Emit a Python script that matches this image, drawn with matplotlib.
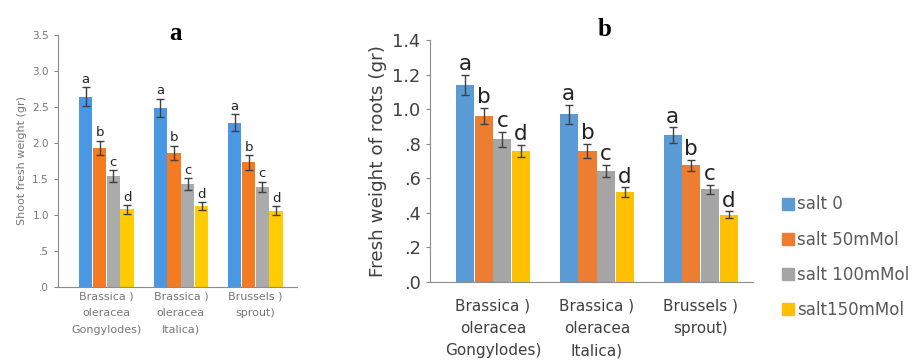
import matplotlib
matplotlib.use("Agg")
import matplotlib.pyplot as plt
import numpy as np
from matplotlib.ticker import FuncFormatter
from matplotlib.lines import Line2D

plt.rcParams['font.family'] = ['DejaVu Sans']

categories = ["Brassica )\noleracea\nGongylodes)", "Brassica )\noleracea\nItalica)", "Brussels )\nsprout)"]
series = ["salt 0", "salt 50mMol", "salt 100mMol", "salt150mMol"]
letters = ["a", "b", "c", "d"]

# Panel a: shoot fresh weight (gr)
shoot_vals = {
    "salt 0":       [2.64, 2.49, 2.28],
    "salt 50mMol":  [1.93, 1.86, 1.73],
    "salt 100mMol": [1.54, 1.43, 1.39],
    "salt150mMol":  [1.08, 1.12, 1.06],
}
shoot_err = {
    "salt 0":       [0.13, 0.125, 0.115],
    "salt 50mMol":  [0.10, 0.10, 0.10],
    "salt 100mMol": [0.08, 0.08, 0.07],
    "salt150mMol":  [0.06, 0.055, 0.06],
}

# Panel b: fresh weight of roots (gr)
root_vals = {
    "salt 0":       [1.14, 0.97, 0.85],
    "salt 50mMol":  [0.96, 0.76, 0.675],
    "salt 100mMol": [0.826, 0.641, 0.537],
    "salt150mMol":  [0.757, 0.519, 0.39],
}
root_err = {
    "salt 0":       [0.06, 0.054, 0.045],
    "salt 50mMol":  [0.047, 0.04, 0.033],
    "salt 100mMol": [0.043, 0.036, 0.027],
    "salt150mMol":  [0.036, 0.03, 0.02],
}

colors_a = ["#4A98E4", "#F47B22", "#ABABAB", "#FFCC00"]
colors_b = ["#5B9BD5", "#ED7D31", "#A5A5A5", "#FFC000"]

def fmt(v, pos):
    s = f"{v:.1f}"
    if s.startswith("0"):
        s = s[1:]
    return s

fig = plt.figure(figsize=(9.2, 3.63), dpi=100)

def panel(ax, vals, errs, colors, width, ylim, step, tick_fs, lab_fs, let_fs,
          ylabel, ylab_fs, txtcol, linesp, let_off, xpad):
    x = np.arange(len(categories))
    n = len(series)
    for i, s in enumerate(series):
        xs = x + (i - (n - 1) / 2) * width
        ax.bar(xs, vals[s], width=width * 0.97, color=colors[i], zorder=2)
        ax.errorbar(xs, vals[s], yerr=errs[s], fmt='none', ecolor='#3F3F3F',
                    elinewidth=1.0, capsize=3, capthick=1.0, zorder=3)
        for xi, v, e in zip(xs, vals[s], errs[s]):
            ax.text(xi, v + e + let_off, letters[i], ha='center', va='bottom',
                    fontsize=let_fs, color='#222222')
    ax.set_ylim(*ylim)
    ax.set_yticks(np.arange(0, ylim[1] + 1e-9, step))
    ax.yaxis.set_major_formatter(FuncFormatter(fmt))
    ax.set_xticks(x)
    ax.set_xticklabels(categories, fontsize=lab_fs, color=txtcol, linespacing=linesp)
    ax.tick_params(axis='x', length=0, pad=xpad)
    ax.tick_params(axis='y', labelsize=tick_fs, colors='#888888', labelcolor=txtcol, length=3)
    for sp in ['top', 'right']:
        ax.spines[sp].set_visible(False)
    for sp in ['left', 'bottom']:
        ax.spines[sp].set_color('#8C8C8C')
    ax.set_ylabel(ylabel, fontsize=ylab_fs, color=txtcol)

ax1 = fig.add_axes([0.063, 0.209, 0.260, 0.695])
panel(ax1, shoot_vals, shoot_err, colors_a, 0.185, (0, 3.5), 0.5, 7.5, 8, 9.5,
      "Shoot fresh weight (gr)", 8, '#777777', 1.85, 0.02, 3)
ax1.set_xlim(-0.65, 2.56)
fig.text(175 / 920, 1 - 33 / 363, "a", fontsize=18, fontweight='bold',
         family='Liberation Serif', ha='center', va='center')

ax2 = fig.add_axes([0.467, 0.223, 0.351, 0.667])
panel(ax2, root_vals, root_err, colors_b, 0.18, (0, 1.4), 0.2, 12.8, 11, 15.5,
      "Fresh weight of roots (gr)", 13.2, '#404040', 1.6, 0.003, 12)
ax2.set_xlim(-0.61, 2.5)
fig.text(605 / 920, 1 - 30 / 363, "b", fontsize=18, fontweight='bold',
         family='Liberation Serif', ha='center', va='center')

handles = [Line2D([0], [0], marker='s', linestyle='none', markersize=8,
                  markerfacecolor=c, markeredgecolor=c) for c in colors_b]
fig.legend(handles, series, loc='upper left', bbox_to_anchor=(0.831, 0.503),
           frameon=False, fontsize=12, labelspacing=1.03, handletextpad=0.05,
           handlelength=1.0, labelcolor='#595959')

fig.savefig("out.png", dpi=100)
